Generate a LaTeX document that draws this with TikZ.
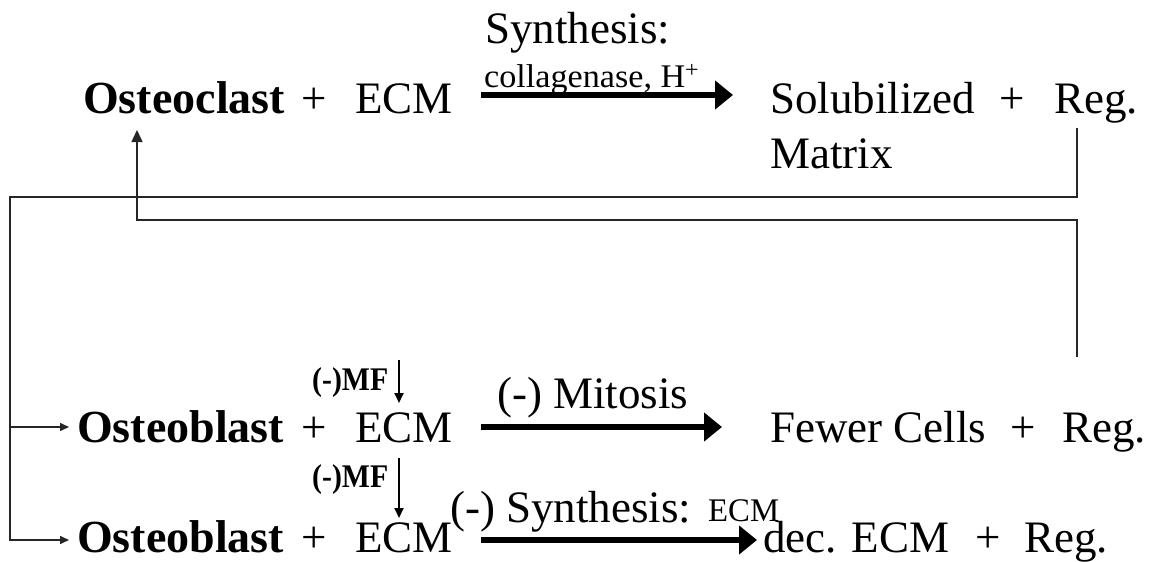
\documentclass[tikz,border=0pt]{standalone}
\usepackage{fontspec}
\setmainfont{Liberation Serif}
\usetikzlibrary{arrows.meta}
\begin{document}
\begin{tikzpicture}[x=1pt,y=-1pt,
  txt/.style={inner sep=0pt, anchor=base west, font=\fontsize{45}{54}\selectfont},
  btxt/.style={inner sep=0pt, anchor=base west, font=\fontsize{46}{54}\selectfont\bfseries},
  smalltxt/.style={inner sep=0pt, anchor=base west, font=\fontsize{33}{36}\selectfont},
  mftxt/.style={inner sep=0pt, anchor=base west, font=\fontsize{33}{36}\selectfont\bfseries},
  bigarrow/.style={line width=6.5pt, -{Triangle[length=18pt,width=28pt]}},
  thinline/.style={line width=1.5pt, black!85},
  smallhead/.style={-{Triangle[length=9pt,width=8pt]}},
  uphead/.style={-{Triangle[length=12pt,width=11pt]}},
  mfarrow/.style={line width=1.8pt, -{Triangle[length=10pt,width=9pt]}}]
\fill[white] (0,0) rectangle (1151,562);
% ---- row 1
\node[btxt] (oc) at (83,113) {Osteoclast};
\node[txt] (p1) at (301,113) {+};
\node[txt] (ecm1) at (355,113) {ECM};
\node[txt] (syn1) at (485,43) {Synthesis:};
\node[smalltxt] (col) at (484,87) {\resizebox{215pt}{\height}{collagenase, H\textsuperscript{+}}};
\node[txt] (sol) at (770,113) {Solubilized};
\node[txt] (p1b) at (999,113) {+};
\node[txt] (reg1) at (1054,113) {Reg.};
\node[txt] (mat) at (770,168) {Matrix};
\coordinate (a1s) at (481,95);
\coordinate (a1e) at (733,95);
\draw[bigarrow] (a1s) -- (a1e);
% ---- row 2
\node[mftxt] (mf1) at (312,390) {\resizebox{76pt}{\height}{(-)MF}};
\node[btxt] (ob1) at (77,442) {Osteoblast};
\node[txt] (p2) at (301,442) {+};
\node[txt] (ecm2) at (355,442) {ECM};
\node[txt] (mit) at (497,408) {(-) Mitosis};
\node[txt] (few) at (770,442) {Fewer Cells};
\node[txt] (p2b) at (1010,442) {+};
\node[txt] (reg2) at (1062,442) {Reg.};
\coordinate (a2s) at (481,427);
\coordinate (a2e) at (722,427);
\draw[bigarrow] (a2s) -- (a2e);
\coordinate (m1s) at (399,360);
\coordinate (m1e) at (399,403);
\draw[mfarrow] (m1s) -- (m1e);
% ---- row 3
\node[mftxt] (mf2) at (312,487) {\resizebox{76pt}{\height}{(-)MF}};
\node[btxt] (ob2) at (77,552) {Osteoblast};
\node[txt] (p3) at (301,552) {+};
\node[txt] (ecm3) at (355,552) {ECM};
\node[txt] (syn3) at (450,522) {(-) Synthesis:};
\node[smalltxt] (ecms) at (708,521) {\resizebox{71pt}{\height}{ECM}};
\node[txt] (dec) at (763,552) {dec. ECM};
\node[txt] (p3b) at (975,552) {+};
\node[txt] (reg3) at (1024,552) {Reg.};
\coordinate (a3s) at (481,540);
\coordinate (a3e) at (757,540);
\draw[bigarrow] (a3s) -- (a3e);
\coordinate (m2s) at (399,458);
\coordinate (m2e) at (399,518);
\draw[mfarrow] (m2s) -- (m2e);
% ---- feedback loop to osteoblasts
\coordinate (L1a) at (1077,128);
\coordinate (L1b) at (1077,197);
\coordinate (L1c) at (10,197);
\coordinate (B1) at (10,427);
\coordinate (B1e) at (69,427);
\coordinate (B2) at (10,540);
\coordinate (B2e) at (69,540);
\draw[thinline, smallhead] (L1a) -- (L1b) -- (L1c) -- (B2) -- (B2e);
\draw[thinline, smallhead] (B1) -- (B1e);
% ---- feedback loop to osteoclast
\coordinate (L2a) at (1077,357);
\coordinate (L2b) at (1077,220);
\coordinate (L2c) at (137,220);
\coordinate (L2d) at (137,130);
\draw[thinline, uphead] (L2a) -- (L2b) -- (L2c) -- (L2d);
\end{tikzpicture}
\end{document}
